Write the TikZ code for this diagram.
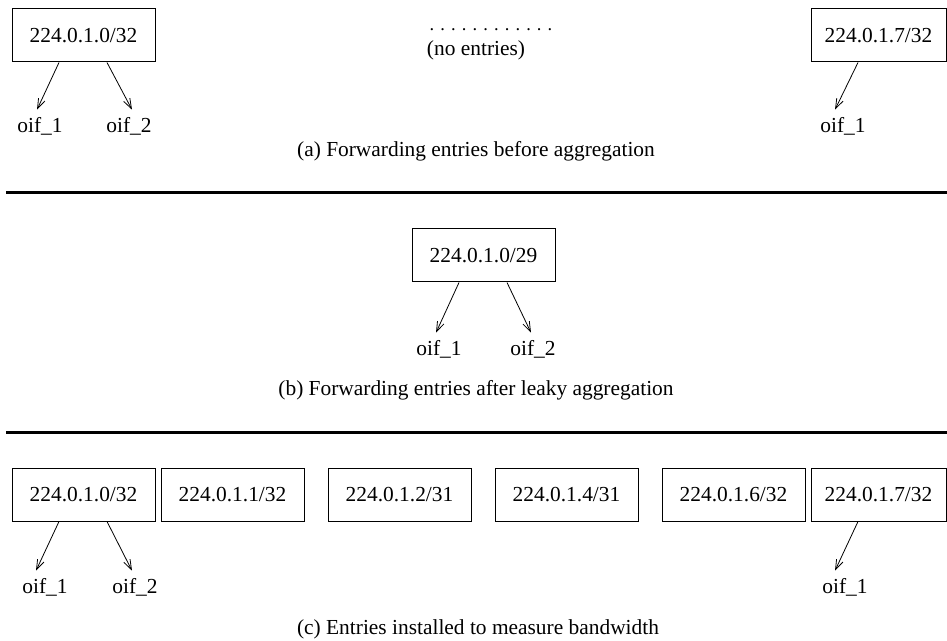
\documentclass[tikz,border=0pt]{standalone}
\usepackage{fontspec}
\setmainfont{Liberation Serif}
\usetikzlibrary{arrows.meta, positioning}
\tikzset{
  entry/.style={rectangle, draw, line width=0.5pt,
    minimum width=71.5pt, minimum height=26.5pt, inner sep=0pt},
  oif/.style={inner sep=1pt},
  fwd/.style={-{Straight Barb[length=5pt, width=3.5pt]}, line width=0.4pt},
  sep/.style={line width=1.5pt}
}
\begin{document}
\begin{tikzpicture}[x=0.5pt, y=-0.5pt, font=\fontsize{10.7}{13}\selectfont]
  \useasboundingbox (0,0) rectangle (947,641);

  % (a) before aggregation
  \node[entry] (a0) at (83.5,35.5) {224.0.1.0/32};
  \node[entry, minimum width=67.5pt] (a7) at (878.5,35.5) {224.0.1.7/32};
  \node[font=\fontsize{9.2}{11}\selectfont] (dots) at (491,30) {. . . . . . . . . . . .};
  \node (none) at (476,50) {(no entries)};
  \node[oif] (a0o1) at (40,126) {oif\_1};
  \node[oif] (a0o2) at (129,126) {oif\_2};
  \node[oif] (a7o1) at (843,126) {oif\_1};
  \draw[fwd] ([xshift=-12.25pt]a0.south) -- ([xshift=-1.5pt, yshift=2.5pt]a0o1.north);
  \draw[fwd] ([xshift=11.75pt]a0.south) -- ([xshift=1.5pt, yshift=2.5pt]a0o2.north);
  \draw[fwd] ([xshift=-10.25pt]a7.south) -- ([xshift=-4pt, yshift=2.5pt]a7o1.north);
  \node (capa) at (476,151) {(a) Forwarding entries before aggregation};

  \draw[sep] (6,193) -- (947,193);

  % (b) leaky aggregation
  \node[entry] (b0) at (483.5,255.5) {224.0.1.0/29};
  \node[oif] (b0o1) at (439,349) {oif\_1};
  \node[oif] (b0o2) at (533,349) {oif\_2};
  \draw[fwd] ([xshift=-12.25pt]b0.south) -- ([xshift=-1.5pt, yshift=2.5pt]b0o1.north);
  \draw[fwd] ([xshift=11.75pt]b0.south) -- ([xshift=-1pt, yshift=2.5pt]b0o2.north);
  \node (capb) at (476,390) {(b) Forwarding entries after leaky aggregation};

  \draw[sep] (6,432) -- (947,432);

  % (c) measuring entries
  \node[entry] (c0) at (83.5,494.5) {224.0.1.0/32};
  \node[entry] (c1) at (232.5,494.5) {224.0.1.1/32};
  \node[entry] (c2) at (399.5,494.5) {224.0.1.2/31};
  \node[entry] (c3) at (566.5,494.5) {224.0.1.4/31};
  \node[entry] (c4) at (733.5,494.5) {224.0.1.6/32};
  \node[entry, minimum width=67.5pt] (c7) at (878.5,494.5) {224.0.1.7/32};
  \node[oif] (c0o1) at (45,587) {oif\_1};
  \node[oif] (c0o2) at (135,587) {oif\_2};
  \node[oif] (c7o1) at (845,587) {oif\_1};
  \draw[fwd] ([xshift=-12.25pt]c0.south) -- ([xshift=-4.5pt, yshift=2.5pt]c0o1.north);
  \draw[fwd] ([xshift=11.75pt]c0.south) -- ([xshift=-1.5pt, yshift=2.5pt]c0o2.north);
  \draw[fwd] ([xshift=-10.25pt]c7.south) -- ([xshift=-5pt, yshift=2.5pt]c7o1.north);
  \node (capc) at (478,629) {(c) Entries installed to measure bandwidth};

\end{tikzpicture}
\end{document}
